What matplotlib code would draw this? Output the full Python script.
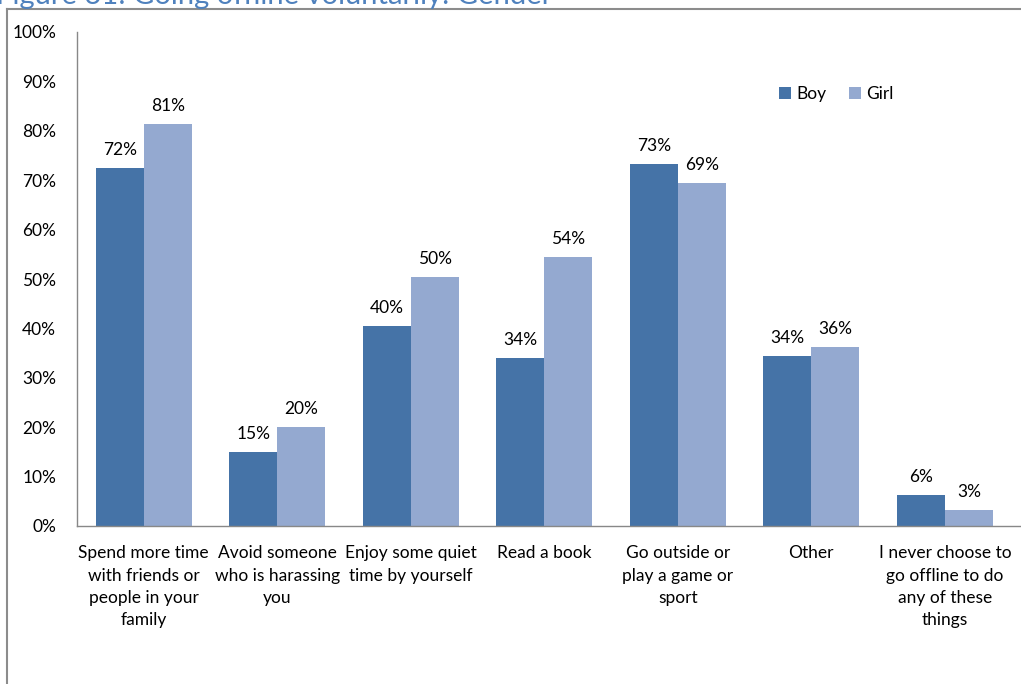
import numpy as np
import matplotlib.pyplot as plt
from matplotlib.lines import Line2D

plt.rcParams['font.family'] = ['Lato', 'DejaVu Sans']

categories = ['Spend more time\nwith friends or\npeople in your\nfamily',
              'Avoid someone\nwho is harassing\nyou',
              'Enjoy some quiet\ntime by yourself',
              'Read a book',
              'Go outside or\nplay a game or\nsport',
              'Other',
              'I never choose to\ngo offline to do\nany of these\nthings']
boy = [72.4, 15.0, 40.4, 34.0, 73.2, 34.4, 6.2]
girl = [81.4, 20.0, 50.4, 54.4, 69.4, 36.2, 3.2]
yticks = [0, 10, 20, 30, 40, 50, 60, 70, 80, 90, 100]

W, H = 1021, 684
fs = 12.5
fig = plt.figure(figsize=(W / 100, H / 100), dpi=100)
# axes in pixel coords: left 77, right ~1025, top 32, bottom 526
ax = fig.add_axes([77 / W, 1 - 526 / H, (1025 - 77) / W, (526 - 32) / H])

x = np.arange(len(categories))
bw = 0.36
b1 = ax.bar(x - bw / 2, boy, bw, color='#4573A7', label='Boy')
b2 = ax.bar(x + bw / 2, girl, bw, color='#94A9D0', label='Girl')

for bars, vals in [(b1, boy), (b2, girl)]:
    for r, v in zip(bars, vals):
        ax.text(r.get_x() + r.get_width() / 2, v + 2.1, '%.0f%%' % v,
                ha='center', va='bottom', fontsize=fs)

ax.set_xlim(-0.5, 6.60)
ax.set_ylim(0, 100)
ax.set_yticks(yticks)
ax.set_yticklabels(['%d%%' % t for t in yticks], fontsize=fs)
ax.set_xticks(x)
ax.set_xticklabels(categories, fontsize=fs, linespacing=1.48, va='top')
ax.tick_params(axis='y', length=0, pad=15)
ax.tick_params(axis='x', length=0, pad=14)
for s in ['top', 'right']:
    ax.spines[s].set_visible(False)
for s in ['left', 'bottom']:
    ax.spines[s].set_color('#888888')
    ax.spines[s].set_linewidth(1.0)

ax.legend(loc='upper left', bbox_to_anchor=(695 / (1025 - 77), 1 - 47 / 494),
          frameon=False, ncol=2, fontsize=fs, handlelength=0.7,
          handleheight=0.7, handletextpad=0.3, columnspacing=1.3,
          borderaxespad=0)

# outer chart frame (top and left edges visible)
fig.add_artist(Line2D([7 / W, 7 / W], [0, 1 - 9 / H], transform=fig.transFigure,
                      color='#8c8c8c', lw=1.5))
fig.add_artist(Line2D([7 / W, 1], [1 - 9 / H, 1 - 9 / H], transform=fig.transFigure,
                      color='#8c8c8c', lw=1.5))

# title, mostly cropped off at the top as in the original page
fig.text(-0.004, 1 - 4 / H, 'Figure 31: Going offline voluntarily: Gender',
         ha='left', va='baseline', fontsize=21, color='#4F81BD')

fig.savefig('out.png', dpi=100)
